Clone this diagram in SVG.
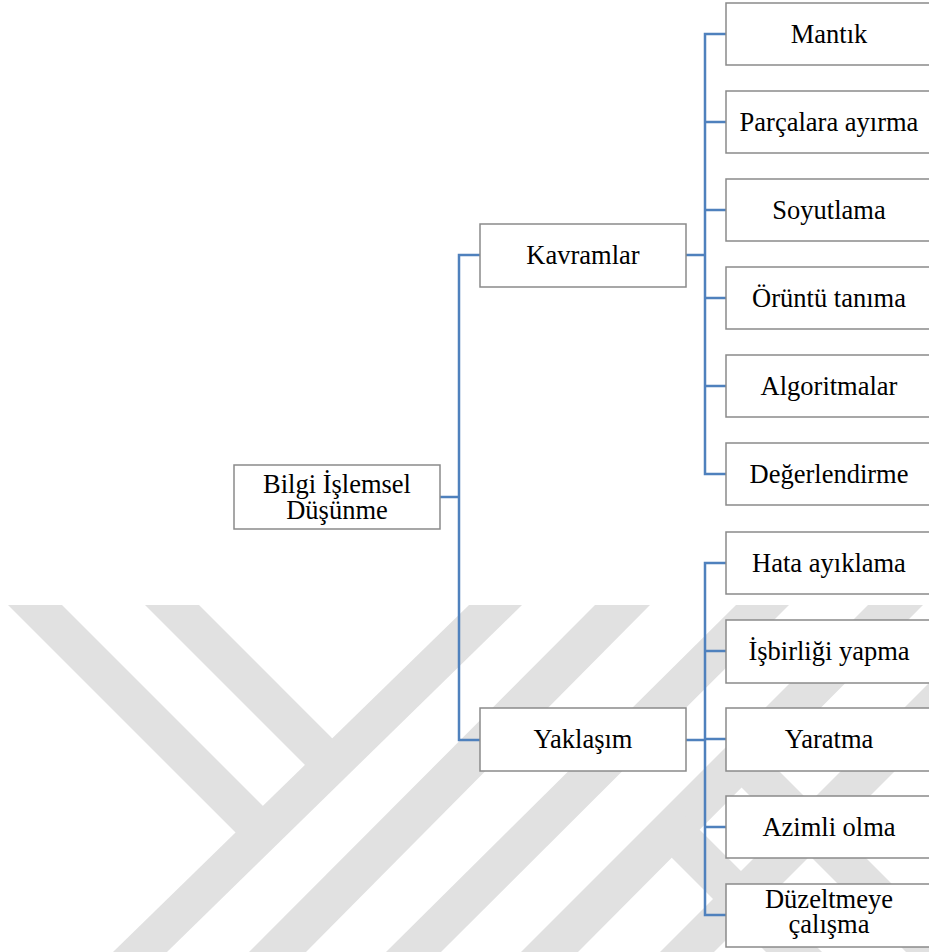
<svg xmlns="http://www.w3.org/2000/svg" width="929" height="952" viewBox="0 0 929 952">
  <style>
    .mark { fill: #e1e1e1; stroke: none; }
    .box { fill: #ffffff; stroke: #8a8a8a; stroke-width: 1.5; }
    .lbl { font-family: "Liberation Serif", "Times New Roman", serif; font-size: 26.5px; fill: #000000; text-anchor: middle; }
    .link { fill: none; stroke: #4f81bd; stroke-width: 2.5; stroke-linecap: butt; stroke-linejoin: miter; }
  </style>

  <rect x="0" y="0" width="929" height="952" fill="#ffffff"/>

  <!-- background logo made of 45-degree stripes -->
  <g id="watermark">
    <polygon class="mark" points="8,605 62,605 276,819 248.6,845.6"/>
    <polygon class="mark" points="145,605 199,605 345.4,751.4 318,778"/>
    <polygon class="mark" points="469,605 522,605 167,952 113,952"/>
    <polygon class="mark" points="595,605 650,605 306,952 249,952"/>
    <polygon class="mark" points="736,605 789,605 441,952 386,952"/>
    <polygon class="mark" points="868,605 923,605 578,952 521,952"/>
    <polygon class="mark" points="1007,605 1061,605 714,952 660,952"/>
    <polygon class="mark" points="685.9,815.9 870,1000 814,1000 658,844"/>
    <polygon class="mark" points="754.7,746.7 1008,1000 954,1000 727.8,773.8"/>
  </g>

  <!-- connectors -->
  <g id="connectors">
    <path class="link" d="M440,497 H459 M480,255 H459 V740 H480"/>
    <path class="link" d="M686,255 H705 M726,34 H705 V474 H726 M705,122 H726 M705,210 H726 M705,298 H726 M705,386 H726"/>
    <path class="link" d="M686,740 H705 M726,563 H705 V915 H726 M705,651 H726 M705,739 H726 M705,827 H726"/>
  </g>

  <!-- root -->
  <g id="node-root">
    <rect class="box" x="234" y="465" width="206" height="64"/>
    <text class="lbl" x="337" y="492.5">Bilgi İşlemsel</text>
    <text class="lbl" x="337" y="518.5">Düşünme</text>
  </g>

  <!-- second level -->
  <g id="node-kavramlar">
    <rect class="box" x="480" y="224" width="206" height="63"/>
    <text class="lbl" x="583" y="264">Kavramlar</text>
  </g>
  <g id="node-yaklasim">
    <rect class="box" x="480" y="708" width="206" height="63"/>
    <text class="lbl" x="583" y="748">Yaklaşım</text>
  </g>

  <!-- leaves under Kavramlar -->
  <g id="node-mantik">
    <rect class="box" x="726" y="3" width="206" height="62"/>
    <text class="lbl" x="829" y="43">Mantık</text>
  </g>
  <g id="node-parcalara">
    <rect class="box" x="726" y="91" width="206" height="62"/>
    <text class="lbl" x="829" y="131">Parçalara ayırma</text>
  </g>
  <g id="node-soyutlama">
    <rect class="box" x="726" y="179" width="206" height="62"/>
    <text class="lbl" x="829" y="219">Soyutlama</text>
  </g>
  <g id="node-oruntu">
    <rect class="box" x="726" y="267" width="206" height="62"/>
    <text class="lbl" x="829" y="307">Örüntü tanıma</text>
  </g>
  <g id="node-algoritmalar">
    <rect class="box" x="726" y="355" width="206" height="62"/>
    <text class="lbl" x="829" y="395">Algoritmalar</text>
  </g>
  <g id="node-degerlendirme">
    <rect class="box" x="726" y="443" width="206" height="62"/>
    <text class="lbl" x="829" y="483">Değerlendirme</text>
  </g>

  <!-- leaves under Yaklaşım -->
  <g id="node-hata">
    <rect class="box" x="726" y="532" width="206" height="62"/>
    <text class="lbl" x="829" y="572">Hata ayıklama</text>
  </g>
  <g id="node-isbirligi">
    <rect class="box" x="726" y="620" width="206" height="63"/>
    <text class="lbl" x="829" y="660">İşbirliği yapma</text>
  </g>
  <g id="node-yaratma">
    <rect class="box" x="726" y="708" width="206" height="63"/>
    <text class="lbl" x="829" y="748">Yaratma</text>
  </g>
  <g id="node-azimli">
    <rect class="box" x="726" y="796" width="206" height="62"/>
    <text class="lbl" x="829" y="836">Azimli olma</text>
  </g>
  <g id="node-duzeltme">
    <rect class="box" x="726" y="884" width="206" height="63"/>
    <text class="lbl" x="829" y="907.5">Düzeltmeye</text>
    <text class="lbl" x="829" y="933">çalışma</text>
  </g>
</svg>
